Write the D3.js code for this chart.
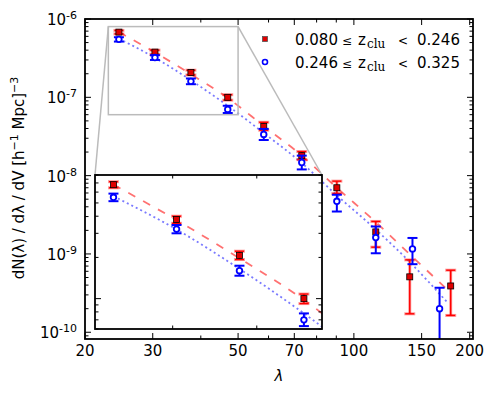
<!doctype html>
<html>
<head>
<meta charset="utf-8">
<title>dN/dlambda/dV</title>
<script src="https://cdn.jsdelivr.net/npm/d3@7"></script>
<style>
  body { margin: 0; background: #fff; }
  svg { font-family: 'DejaVu Sans', sans-serif; }
  .spine { fill: none; stroke: #000; stroke-width: 1.8; }
  .tick { stroke: #000; stroke-width: 1; }
  .lbl { font-size: 15px; fill: #000; }
</style>
</head>
<body>
<div id="chart"></div>
<script>
// ---- data ----
var redLambda  = [24.5, 30.4, 37.7, 47.0, 58.3, 73.2, 90.3, 114, 139.7, 178.5];
var redDensity = [6.8e-7, 3.78e-7, 2.07e-7, 1.0e-7, 4.25e-8, 1.8e-8, 7.0e-9, 1.91e-9, 5.1e-10, 3.9e-10];
var redLow     = [6.45e-7, 3.55e-7, 1.93e-7, 9.2e-8, 3.8e-8, 1.6e-8, 5.9e-9, 1.22e-9, 1.72e-10, 1.64e-10];
var redHigh    = [7.15e-7, 4.0e-7, 2.22e-7, 1.08e-7, 4.8e-8, 2.03e-8, 8.5e-9, 2.6e-9, 8.4e-10, 6.2e-10];

var blueLambda  = [24.5, 30.4, 37.7, 47.0, 58.3, 73.2, 90.3, 114, 142, 167];
var blueDensity = [5.5e-7, 3.22e-7, 1.6e-7, 7.0e-8, 3.36e-8, 1.47e-8, 4.7e-9, 1.62e-9, 1.16e-9, 2.0e-10];
var blueLow     = [5.15e-7, 3.0e-7, 1.47e-7, 6.3e-8, 2.85e-8, 1.2e-8, 3.48e-9, 1.02e-9, 7.4e-10, 1e-12];
var blueHigh    = [5.85e-7, 3.45e-7, 1.74e-7, 7.8e-8, 3.95e-8, 1.8e-8, 5.7e-9, 2.24e-9, 1.6e-9, 3.7e-10];

// fitted curves (read at a few lambda values)
var fitLambda   = [24.5, 30.4, 37.7, 47.0, 58.3, 73.2, 90.3, 114, 140, 175];
var redFit      = [6.8e-7, 3.75e-7, 1.97e-7, 9.8e-8, 4.3e-8, 1.8e-8, 7.0e-9, 2.55e-9, 9.8e-10, 3.5e-10];
var blueFit     = [5.6e-7, 3.2e-7, 1.65e-7, 7.8e-8, 3.5e-8, 1.45e-8, 5.6e-9, 2.05e-9, 7.8e-10, 2.4e-10];

var xTickValues = [20, 30, 50, 70, 100, 150, 200];
var xMinorValues = [40, 60, 80, 90];
var yTickExponents = [-10, -9, -8, -7, -6];
var legendLabels = [["0.080", "0.246"], ["0.246", "0.325"]];

// ---- layout ----
var width = 495, height = 394;
var margin = { top: 19, right: 22, bottom: 55, left: 85 };
var inset = { left: 95, top: 175, right: 322, bottom: 329 };
var insetX = [23, 50], insetY = [6e-8, 8e-7];

var x = d3.scaleLog().domain([20, 204]).range([margin.left, width - margin.right]);
var y = d3.scaleLog().domain([8.2e-11, 1e-6]).range([height - margin.bottom, margin.top]);
var xi = d3.scaleLog().domain(insetX).range([inset.left, inset.right]);
var yi = d3.scaleLog().domain(insetY).range([inset.bottom, inset.top]);

var svg = d3.select("#chart").append("svg").attr("width", width).attr("height", height);
svg.append("rect").attr("width", width).attr("height", height).attr("fill", "#fff");

var defs = svg.append("defs");
defs.append("clipPath").attr("id", "clipMain").append("rect")
  .attr("x", margin.left).attr("y", margin.top)
  .attr("width", width - margin.left - margin.right).attr("height", height - margin.top - margin.bottom);
defs.append("clipPath").attr("id", "clipInset").append("rect")
  .attr("x", inset.left).attr("y", inset.top)
  .attr("width", inset.right - inset.left).attr("height", inset.bottom - inset.top);

function series(xs, ys) { return xs.map(function (d, i) { return { x: d, y: ys[i] }; }); }

function minorLogTicks(domain) {
  var out = [];
  for (var e = -12; e <= -5; e++) {
    for (var k = 2; k <= 9; k++) {
      var v = k * Math.pow(10, e);
      if (v >= domain[0] && v <= domain[1]) out.push(v);
    }
  }
  return out;
}

function drawData(g, sx, sy) {
  var line = d3.line().x(function (d) { return sx(d.x); }).y(function (d) { return sy(d.y); })
    .curve(d3.curveMonotoneX);
  g.append("path").datum(series(fitLambda, redFit)).attr("d", line)
    .attr("fill", "none").attr("stroke", "#ff4d4d").attr("stroke-opacity", 0.8)
    .attr("stroke-width", 1.8).attr("stroke-dasharray", "8,9");
  g.append("path").datum(series(fitLambda, blueFit)).attr("d", line)
    .attr("fill", "none").attr("stroke", "#4d4dff").attr("stroke-opacity", 0.75)
    .attr("stroke-width", 1.8).attr("stroke-dasharray", "2,3");

  function errorBars(lam, lo, hi, color, lw, cap, opacity) {
    var eg = g.append("g").attr("stroke", color).attr("stroke-width", lw).attr("stroke-opacity", opacity);
    lam.forEach(function (l, i) {
      var cx = sx(l);
      eg.append("line").attr("x1", cx).attr("x2", cx).attr("y1", sy(lo[i])).attr("y2", sy(hi[i]));
      [lo[i], hi[i]].forEach(function (v) {
        eg.append("line").attr("x1", cx - cap).attr("x2", cx + cap).attr("y1", sy(v)).attr("y2", sy(v));
      });
    });
  }
  errorBars(redLambda, redLow, redHigh, "#ff0000", 3, 5.5, 0.4);
  errorBars(redLambda, redLow, redHigh, "#ff0000", 1.4, 4.5, 1);

  g.append("g").selectAll("rect").data(series(redLambda, redDensity)).join("rect")
    .attr("x", function (d) { return sx(d.x) - 3; }).attr("y", function (d) { return sy(d.y) - 3; })
    .attr("width", 6).attr("height", 6)
    .attr("fill", "#e00000").attr("stroke", "#000").attr("stroke-width", 0.8);

  errorBars(blueLambda, blueLow, blueHigh, "#0000ff", 2, 5, 1);

  g.append("g").selectAll("circle").data(series(blueLambda, blueDensity)).join("circle")
    .attr("cx", function (d) { return sx(d.x); }).attr("cy", function (d) { return sy(d.y); })
    .attr("r", 2.8).attr("fill", "#fff").attr("stroke", "#0000ff").attr("stroke-width", 1.8);
}

function drawFrame(g, sx, sy, box, xMaj, xMin, yMaj, yMin) {
  var t = g.append("g").attr("class", "tick");
  function hx(v, len) {
    t.append("line").attr("x1", sx(v)).attr("x2", sx(v)).attr("y1", box.bottom).attr("y2", box.bottom - len);
    t.append("line").attr("x1", sx(v)).attr("x2", sx(v)).attr("y1", box.top).attr("y2", box.top + len);
  }
  function vy(v, len) {
    t.append("line").attr("y1", sy(v)).attr("y2", sy(v)).attr("x1", box.left).attr("x2", box.left + len);
    t.append("line").attr("y1", sy(v)).attr("y2", sy(v)).attr("x1", box.right).attr("x2", box.right - len);
  }
  xMaj.forEach(function (v) { hx(v, 6); });
  xMin.forEach(function (v) { hx(v, 3.5); });
  yMaj.forEach(function (v) { vy(v, 6); });
  yMin.forEach(function (v) { vy(v, 3.5); });
  g.append("rect").attr("class", "spine")
    .attr("x", box.left).attr("y", box.top)
    .attr("width", box.right - box.left).attr("height", box.bottom - box.top);
}

// ---- main panel ----
var mainBox = { left: margin.left, top: margin.top, right: width - margin.right, bottom: height - margin.bottom };
var mainG = svg.append("g").attr("clip-path", "url(#clipMain)");
drawData(mainG, x, y);

// zoom rectangle and connectors
var zr = { l: x(insetX[0]), r: x(insetX[1]), t: y(insetY[1]), b: y(insetY[0]) };
var grey = svg.append("g").attr("stroke", "#bbbbbb").attr("stroke-width", 1.5).attr("fill", "none");
grey.append("rect").attr("x", zr.l).attr("y", zr.t).attr("width", zr.r - zr.l).attr("height", zr.b - zr.t);
grey.append("line").attr("x1", zr.l).attr("y1", zr.t).attr("x2", inset.left).attr("y2", inset.top);
grey.append("line").attr("x1", zr.r).attr("y1", zr.t).attr("x2", inset.right).attr("y2", inset.top);

drawFrame(svg.append("g"), x, y, mainBox, xTickValues, xMinorValues,
  yTickExponents.map(function (e) { return Math.pow(10, e); }), minorLogTicks(y.domain()));

// tick labels
svg.append("g").selectAll("text").data(xTickValues).join("text")
  .attr("class", "lbl").attr("x", function (d) { return x(d); }).attr("y", mainBox.bottom + 17)
  .attr("text-anchor", "middle").text(function (d) { return d; });

var yl = svg.append("g").selectAll("text").data(yTickExponents).join("text")
  .attr("class", "lbl").attr("x", 77).attr("y", function (d) { return y(Math.pow(10, d)) + 6; })
  .attr("text-anchor", "end");
yl.append("tspan").text("10");
yl.append("tspan").attr("dy", -6).attr("font-size", 11).text(function (d) { return "-" + Math.abs(d); });

// axis labels
svg.append("text").attr("class", "lbl").attr("x", 279).attr("y", 381)
  .attr("text-anchor", "middle").attr("font-style", "italic").attr("font-size", 16).text("λ");
var ylab = svg.append("text").attr("class", "lbl")
  .attr("transform", "translate(24,178) rotate(-90)").attr("text-anchor", "middle").attr("font-size", 15.5);
ylab.append("tspan").text("dN(λ) / dλ / dV [h");
ylab.append("tspan").attr("dy", -6).attr("font-size", 11).text("−1");
ylab.append("tspan").attr("dy", 6).text(" Mpc]");
ylab.append("tspan").attr("dy", -6).attr("font-size", 11).text("−3");

// legend
var leg = svg.append("g").attr("transform", "translate(265,39)");
legendLabels.forEach(function (lab, i) {
  var row = leg.append("g").attr("transform", "translate(0," + (i * 23) + ")");
  if (i === 0) {
    row.append("rect").attr("x", -2.5).attr("y", -2.5).attr("width", 5).attr("height", 5)
      .attr("fill", "#e00000").attr("stroke", "#555").attr("stroke-width", 0.8);
  } else {
    row.append("circle").attr("r", 2.5).attr("fill", "#fff").attr("stroke", "#0000ff").attr("stroke-width", 1.6);
  }
  var tx = row.append("text").attr("class", "lbl").attr("y", 5.5).attr("font-size", 14.5);
  tx.append("tspan").attr("x", 30).text(lab[0]);
  tx.append("tspan").attr("x", 77).attr("font-family", "DejaVu Serif").attr("font-size", 12).text("≤");
  tx.append("tspan").attr("x", 93).text("z");
  tx.append("tspan").attr("x", 102).attr("dy", 3).attr("font-family", "DejaVu Serif").attr("font-size", 12).text("clu");
  tx.append("tspan").attr("x", 133).attr("dy", -3).attr("font-family", "DejaVu Serif").attr("font-size", 12).text("<");
  tx.append("tspan").attr("x", 152).text(lab[1]);
});

// ---- inset ----
svg.append("rect").attr("x", inset.left).attr("y", inset.top)
  .attr("width", inset.right - inset.left).attr("height", inset.bottom - inset.top).attr("fill", "#fff");
var insetG = svg.append("g").attr("clip-path", "url(#clipInset)");
drawData(insetG, xi, yi);
drawFrame(svg.append("g"), xi, yi, inset, [], [30, 40], [1e-7], minorLogTicks(insetY));
</script>
</body>
</html>
